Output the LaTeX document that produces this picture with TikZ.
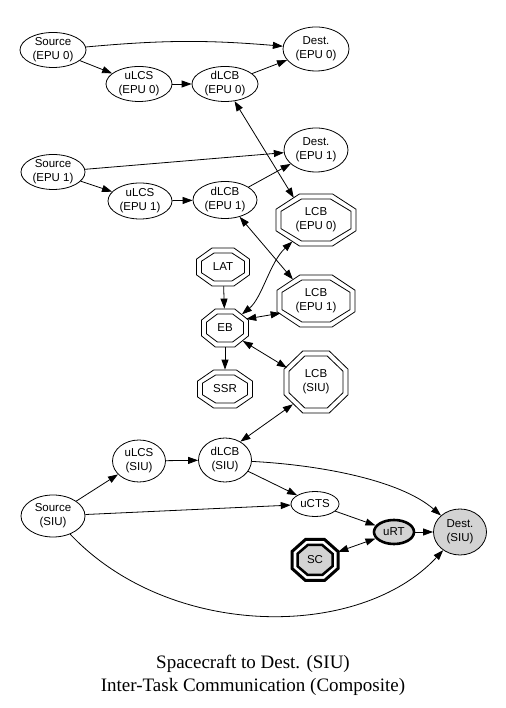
\documentclass[tikz,border=0pt]{standalone}
\usepackage{fontspec}
\setmainfont{Liberation Sans}
\newfontfamily\titlefont{Liberation Serif}
\usetikzlibrary{arrows.meta,shapes.geometric}
\definecolor{lg}{HTML}{D3D3D3}
\tikzset{
 lbl/.style={font=\fontsize{11.5}{14}\selectfont, align=center},
 ell/.style={lbl, ellipse, draw, line width=0.8pt, inner sep=0pt, outer sep=0.4pt},
 octn/.style={lbl, ellipse, inner sep=0pt, outer sep=0pt},
 octline/.style={line width=0.8pt},
 gv/.tip={Triangle[length=10pt,width=7pt]},
 arr/.style={-gv, line width=0.8pt},
 biarr/.style={gv-gv, line width=0.8pt},
}
\newcommand\octpath[5]{%
 \pgfmathsetmacro\octHA{#3}\pgfmathsetmacro\octHB{#4}%
 \pgfmathsetmacro\octCA{0.414*\octHA}\pgfmathsetmacro\octCB{0.414*\octHB}%
 \begin{scope}[shift={(#1,#2)}]
 \draw[#5] (-\octHA,-\octCB) -- (-\octCA,-\octHB) -- (\octCA,-\octHB) -- (\octHA,-\octCB) -- (\octHA,\octCB) -- (\octCA,\octHB) -- (-\octCA,\octHB) -- (-\octHA,\octCB) -- cycle;
 \end{scope}}
\newcommand\dblocto[6]{%
 \octpath{#2}{#3}{#4}{#5}{octline}
 \octpath{#2}{#3}{#4-5}{#5-5}{octline}
 \node[octn, minimum width={2.04*#4}, minimum height={2.04*#5}] (#1) at (#2,#3) {#6};}
\begin{document}
\begin{tikzpicture}[x=1pt,y=1pt]
\useasboundingbox[fill=white] (0,0) rectangle (505,708);
% EPU 0 row
\node[ell, minimum width=66, minimum height=35] (s0) at (53,658) {Source\\(EPU 0)};
\node[ell, minimum width=66, minimum height=35] (u0) at (139,624) {uLCS\\(EPU 0)};
\node[ell, minimum width=66, minimum height=35] (d0) at (225,624) {dLCB\\(EPU 0)};
\node[ell, minimum width=66, minimum height=44] (dest0) at (316,659) {Dest.\\(EPU 0)};
% EPU 1 row
\node[ell, minimum width=64, minimum height=35] (s1) at (53,536) {Source\\(EPU 1)};
\node[ell, minimum width=64, minimum height=36] (u1) at (140,507) {uLCS\\(EPU 1)};
\node[ell, minimum width=64, minimum height=37] (d1) at (225,508) {dLCB\\(EPU 1)};
\node[ell, minimum width=64, minimum height=44] (dest1) at (316,558) {Dest.\\(EPU 1)};
% octagons
\dblocto{lcb0}{316}{488}{40}{26}{LCB\\(EPU 0)}
\dblocto{lcb1}{316}{407}{39}{26}{LCB\\(EPU 1)}
\dblocto{lat}{223}{441}{26.5}{19}{LAT}
\dblocto{eb}{225}{380}{23.5}{19}{EB}
\dblocto{ssr}{225}{319}{27.5}{19}{SSR}
\dblocto{lcbsiu}{316}{326}{32}{31}{LCB\\(SIU)}
% SIU
\node[ell, minimum width=53, minimum height=42] (usiu) at (139,247) {uLCS\\(SIU)};
\node[ell, minimum width=53, minimum height=44] (dsiu) at (225,248) {dLCB\\(SIU)};
\node[ell, minimum width=64, minimum height=42] (ssiu) at (53,192) {Source\\(SIU)};
\node[ell, minimum width=48, minimum height=25] (ucts) at (315,204) {uCTS};
\node[ell, fill=lg, line width=2.6pt, minimum width=40, minimum height=24, outer sep=1.3pt] (urt) at (394,176) {uRT};
\node[ell, fill=lg, minimum width=53, minimum height=46] (destsiu) at (460,176) {Dest.\\(SIU)};
\octpath{315}{148}{23}{20.5}{line width=3pt}
\octpath{315}{148}{17.5}{15}{line width=2.5pt, fill=lg}
\node[octn, minimum width=50, minimum height=45] (sc) at (315,148) {SC};
% edges EPU 0
\draw[arr] (s0) to[bend left=5] (dest0);
\draw[arr] (s0) -- (u0);
\draw[arr] (u0) -- (d0);
\draw[arr] (d0) -- (dest0);
% edges EPU 1
\draw[arr] (s1) -- (dest1);
\draw[arr] (s1) -- (u1);
\draw[arr] (u1) -- (d1);
\draw[arr] (d1) -- (dest1);
% LCB links
\draw[biarr] (d0.299) -- (lcb0.135);
\draw[biarr] (d1.311) -- (lcb1.137);
\draw[biarr] (eb) .. controls (262,410) and (270,446) .. (lcb0);
\draw[biarr] (eb.23) -- (lcb1.199);
\draw[biarr] (eb.324) -- (lcbsiu.154);
\draw[biarr] (dsiu.50) -- (lcbsiu.224);
\draw[arr] (lat) -- (eb);
\draw[arr] (eb) -- (ssr);
% SIU edges
\draw[arr] (ssiu) -- (usiu);
\draw[arr] (usiu) -- (dsiu);
\draw[arr] (ssiu) -- (ucts);
\draw[arr] (ssiu) .. controls (170,68) and (360,68) .. (destsiu);
\draw[arr] (dsiu) .. controls (320,243) and (400,228) .. (destsiu);
\draw[arr] (dsiu) -- (ucts);
\draw[arr] (ucts) -- (urt);
\draw[arr] (urt) -- (destsiu);
\draw[biarr] (sc) -- (urt);
% title
\node[font=\titlefont\fontsize{19}{23}\selectfont, align=center] (title) at (253,33) {Spacecraft to Dest. (SIU)\\Inter-Task Communication (Composite)};
\end{tikzpicture}
\end{document}
